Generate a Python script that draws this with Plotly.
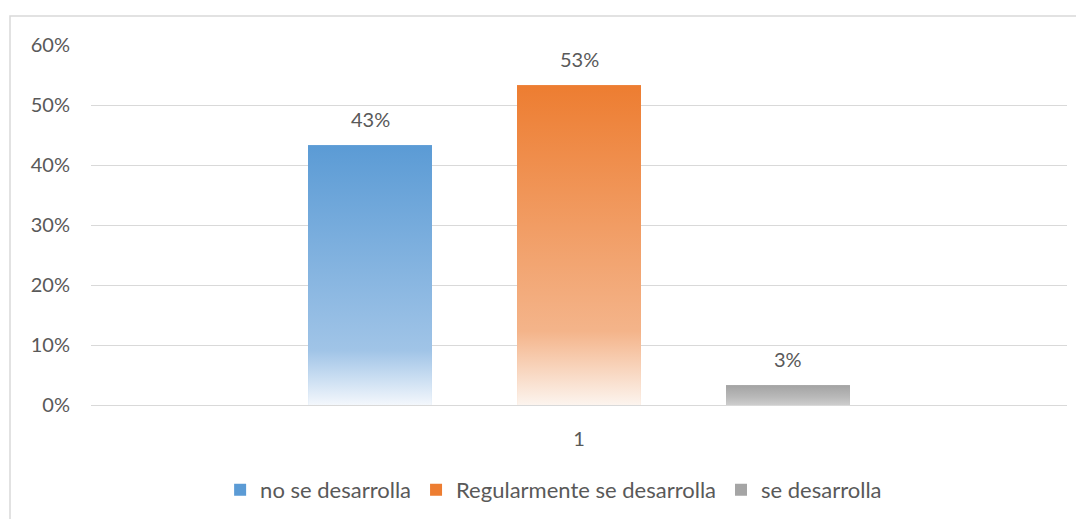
import plotly.graph_objects as go

categories = ["no se desarrolla", "Regularmente se desarrolla", "se desarrolla"]
values = [0.433, 0.533, 0.033]
x_label = "1"
y_ticks = [0, 0.1, 0.2, 0.3, 0.4, 0.5, 0.6]

positions = [-1, 0, 1]
bar_w = 0.593
solid = ["#5B9BD5", "#ED7D31", "#A5A5A5"]
scales = [
    [[0, "rgb(243,247,252)"], [0.21, "rgb(160,196,231)"], [1, "rgb(91,155,213)"]],
    [[0, "rgb(252,244,238)"], [0.23, "rgb(244,180,138)"], [1, "rgb(237,125,49)"]],
    [[0, "rgb(205,205,205)"], [0.4, "rgb(185,185,185)"], [1, "rgb(163,163,163)"]],
]
FONT = "Lato"
TXT = "#595959"

fig = go.Figure()
for name, pos, val, col in zip(categories, positions, values, solid):
    fig.add_trace(go.Bar(x=[pos], y=[val], width=bar_w, name=name,
                         marker=dict(color=col, line=dict(width=0)),
                         hoverinfo="skip"))
for name, pos, val, sc in zip(categories, positions, values, scales):
    x0, x1 = pos - bar_w / 2, pos + bar_w / 2
    fig.add_trace(go.Scatter(x=[x0, x0, x1, x1, x0], y=[0, val, val, 0, 0],
                             fill="toself", mode="none", showlegend=False,
                             fillgradient=dict(type="vertical", colorscale=sc),
                             hoverinfo="skip"))
    fig.add_annotation(x=pos, y=val, text=f"{round(val*100)}%", showarrow=False,
                       yanchor="bottom", yshift=12,
                       font=dict(family=FONT, size=20, color=TXT))

fig.update_layout(
    width=1084, height=519,
    margin=dict(l=83, r=25, t=37, b=122),
    paper_bgcolor="white", plot_bgcolor="white",
    font=dict(family=FONT, size=20, color=TXT),
    barmode="overlay",
    showlegend=True,
    legend=dict(orientation="h", x=0.474, xanchor="center", y=-0.236, yanchor="middle",
                font=dict(family=FONT, size=22, color=TXT), itemwidth=30,
                traceorder="normal"),
    xaxis=dict(range=[-2.335, 2.335], tickvals=[0], ticktext=[x_label],
               showgrid=False, zeroline=False, showline=False, ticks="",
               ticklabelstandoff=20, fixedrange=True),
    yaxis=dict(range=[0, 0.6], tickvals=y_ticks, tickformat=".0%",
               showgrid=True, gridcolor="#d9d9d9", gridwidth=1,
               zeroline=True, zerolinecolor="#d9d9d9", zerolinewidth=1,
               showline=False, ticks="", ticklabelstandoff=20, fixedrange=True),
    shapes=[dict(type="rect", xref="paper", yref="paper",
                 x0=(10 - 91) / 976, x1=1.2, y0=-0.6, y1=(405 - 16) / 360,
                 line=dict(color="#d9d9d9", width=1.5), fillcolor="rgba(0,0,0,0)",
                 layer="below")],
)

fig.write_html("out.html")
